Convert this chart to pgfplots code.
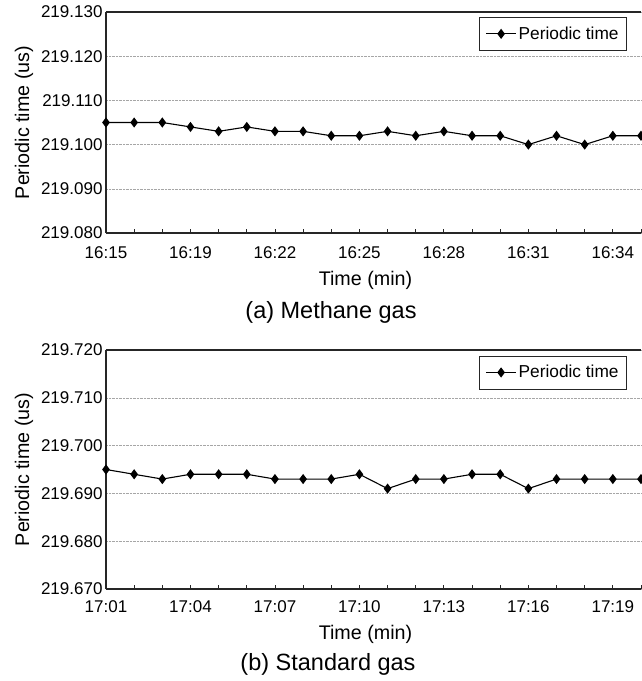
\documentclass[border=0pt]{standalone}
\usepackage{fontspec}
\setmainfont{Liberation Sans}
\usepackage{pgfplots}
\pgfplotsset{compat=1.18}

\pgfplotsset{
  gasplot/.style={
    scale only axis,
    width=535pt,
    anchor=north west,
    xmin=0, xmax=19,
    xtick={0,...,19},
    axis line style={line width=1.2pt, black!85},
    major tick length=4pt,
    xtick style={black!85, line width=0.8pt},
    tick align=inside,
    ytick style={draw=none},
    ymajorgrids,
    major grid style={densely dotted, gray!70, line width=0.5pt},
    tick label style={font=\fontsize{17}{19}\selectfont},
    xticklabel style={yshift=-10pt},
    yticklabel style={/pgf/number format/.cd, fixed, fixed zerofill, precision=3, assume math mode=true},
    label style={font=\fontsize{19.7}{22}\selectfont},
    xlabel={Time (min)},
    ylabel={Periodic time (us)},
    xlabel style={xshift=-8pt, yshift=-6pt},
    ylabel style={yshift=1pt},
    axis x line*=bottom,
    axis y line*=left,
    separate axis lines,
    clip=false,
    legend style={draw=black!85, line width=0.9pt, fill=white,
      font=\fontsize{17.3}{19}\selectfont, inner xsep=6pt, inner ysep=7.5pt,
      legend cell align=left},
    legend image code/.code={
      \draw[#1, mark repeat=2, mark phase=2] plot coordinates {(0pt,0pt) (15pt,0pt) (30pt,0pt)};
    },
    extra description/.code={
      \draw[line width=1.2pt, black!85] (rel axis cs:0,1) -- (rel axis cs:1,1);
    },
  },
  gasline/.style={black, line width=1.1pt, mark=diamond*, mark size=4.2pt,
    mark options={solid, fill=black}},
}

\begin{document}
\begin{tikzpicture}
\path[use as bounding box] (0pt,0pt) rectangle (641pt,-681pt);

% (a) methane gas
\begin{axis}[gasplot,
  at={(106pt,-12pt)},
  height=221pt,
  ymin=219.08, ymax=219.13,
  ytick={219.08,219.09,219.10,219.11,219.12,219.13},
  xticklabels={16:15,{},{},16:19,{},{},16:22,{},{},16:25,{},{},16:28,{},{},16:31,{},{},16:34,{}},
  legend style={at={(0.974,0.978)}, anchor=north east},
]
\addplot[gasline] coordinates {
  (0,219.105) (1,219.105) (2,219.105) (3,219.104) (4,219.103)
  (5,219.104) (6,219.103) (7,219.103) (8,219.102) (9,219.102)
  (10,219.103) (11,219.102) (12,219.103) (13,219.102) (14,219.102)
  (15,219.100) (16,219.102) (17,219.100) (18,219.102) (19,219.102)
};
\addlegendentry{Periodic time}
\end{axis}
\node[font=\fontsize{23.5}{26}\selectfont] at (331pt,-312pt) {(a) Methane gas};

% (b) standard gas
\begin{axis}[gasplot,
  at={(106pt,-350pt)},
  height=239pt,
  ymin=219.67, ymax=219.72,
  ytick={219.67,219.68,219.69,219.70,219.71,219.72},
  xticklabels={17:01,{},{},17:04,{},{},17:07,{},{},17:10,{},{},17:13,{},{},17:16,{},{},17:19,{}},
  xticklabel style={yshift=2pt},
  legend style={at={(0.974,0.977)}, anchor=north east},
]
\addplot[gasline] coordinates {
  (0,219.695) (1,219.694) (2,219.693) (3,219.694) (4,219.694)
  (5,219.694) (6,219.693) (7,219.693) (8,219.693) (9,219.694)
  (10,219.691) (11,219.693) (12,219.693) (13,219.694) (14,219.694)
  (15,219.691) (16,219.693) (17,219.693) (18,219.693) (19,219.693)
};
\addlegendentry{Periodic time}
\end{axis}
\node[font=\fontsize{23.5}{26}\selectfont] at (328pt,-664pt) {(b) Standard gas};
\end{tikzpicture}
\end{document}
